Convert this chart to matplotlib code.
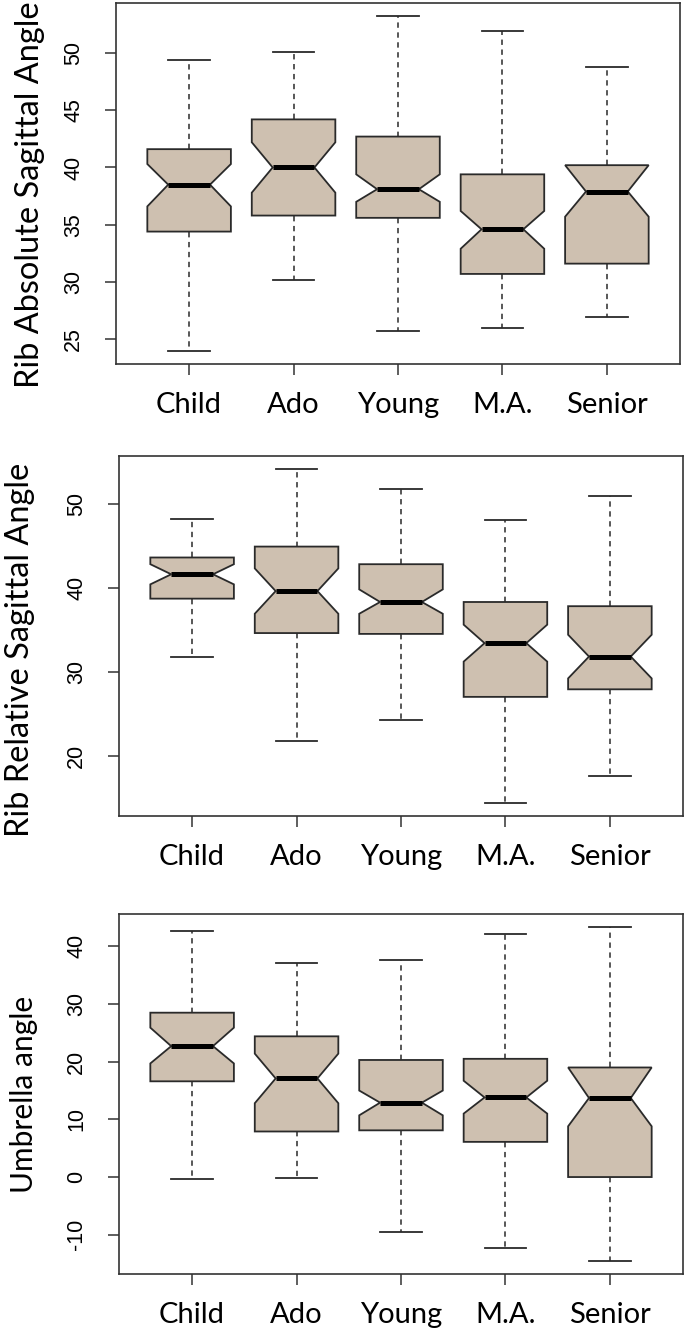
import numpy as np
import matplotlib.pyplot as plt

plt.rcParams['axes.unicode_minus'] = False

# groups
groups = ['Child', 'Ado', 'Young', 'M.A.', 'Senior']

# Rib Absolute Sagittal Angle
abs_whislo = [24.0, 30.2, 25.7, 26.0, 26.9]
abs_q1 = [34.4, 35.8, 35.6, 30.7, 31.6]
abs_cilo = [36.6, 37.8, 37.0, 32.9, 35.7]
abs_med = [38.5, 40.0, 38.1, 34.6, 37.9]
abs_cihi = [40.3, 42.2, 39.4, 36.2, 40.2]
abs_q3 = [41.6, 44.2, 42.7, 39.4, 40.2]
abs_whishi = [49.4, 50.1, 53.2, 51.9, 48.8]

# Rib Relative Sagittal Angle
rel_whislo = [31.7, 21.8, 24.3, 14.4, 17.6]
rel_q1 = [38.7, 34.6, 34.5, 27.0, 27.9]
rel_cilo = [40.4, 36.9, 36.9, 31.2, 29.2]
rel_med = [41.6, 39.6, 38.3, 33.4, 31.8]
rel_cihi = [42.8, 42.3, 39.8, 35.6, 34.4]
rel_q3 = [43.6, 44.9, 42.8, 38.3, 37.8]
rel_whishi = [48.2, 54.1, 51.8, 48.1, 50.9]

# Umbrella angle
umb_whislo = [-0.4, -0.1, -9.6, -12.3, -14.5]
umb_q1 = [16.6, 7.9, 8.1, 6.1, 0.0]
umb_cilo = [19.7, 12.8, 10.7, 11.0, 8.8]
umb_med = [22.7, 17.1, 12.9, 13.8, 13.7]
umb_cihi = [25.9, 21.4, 15.0, 16.7, 19.0]
umb_q3 = [28.5, 24.4, 20.3, 20.5, 19.0]
umb_whishi = [42.7, 37.2, 37.6, 42.2, 43.3]

abs_ticks = [25, 30, 35, 40, 45, 50]
rel_ticks = [20, 30, 40, 50]
umb_ticks = [-10, 0, 10, 20, 30, 40]

W, H = 685, 1337
fig = plt.figure(figsize=(W / 100, H / 100), dpi=100)

fill = '#cec0b0'
edge = '#2a2a2a'


def make_panel(rect, whislo, q1, cilo, med, cihi, q3, whishi, ticks, label, lab_xy, lab_size):
    left, top, right, bottom = rect
    ax = fig.add_axes([left / W, 1 - bottom / H, (right - left) / W, (bottom - top) / H])
    stats = []
    for i in range(len(groups)):
        stats.append(dict(whislo=whislo[i], q1=q1[i], cilo=cilo[i], med=med[i],
                          cihi=cihi[i], q3=q3[i], whishi=whishi[i], fliers=[]))
    pos = np.arange(1, len(groups) + 1)
    ax.bxp(stats, positions=pos, widths=0.8, shownotches=True, patch_artist=True,
           boxprops=dict(facecolor=fill, edgecolor=edge, linewidth=1.3),
           medianprops=dict(color='black', linewidth=3.6, solid_capstyle='butt'),
           whiskerprops=dict(color=edge, linewidth=1.1, linestyle=(0, (3.5, 3))),
           capprops=dict(color=edge, linewidth=1.3))
    lo, hi = min(whislo), max(whishi)
    pad = 0.04 * (hi - lo)
    ax.set_ylim(lo - pad, hi + pad)
    ax.set_xlim(0.3, len(groups) + 0.7)
    ax.set_xticks(pos)
    ax.set_xticklabels(groups, family='Lato', fontsize=21)
    ax.set_yticks(ticks)
    ax.set_yticklabels([str(t) for t in ticks], rotation=90, va='center',
                       family='Liberation Sans', fontsize=15.5)
    ax.tick_params(axis='x', length=8, width=1.1, color='#333333', pad=12)
    ax.tick_params(axis='y', length=8, width=1.1, color='#333333', pad=15)
    for s in ax.spines.values():
        s.set_linewidth(1.2)
        s.set_color('#333333')
    fig.text(lab_xy[0] / W, 1 - lab_xy[1] / H, label, rotation=90, ha='center',
             va='center', family='Lato', fontsize=lab_size)
    return ax


make_panel((116, 3, 680, 364), abs_whislo, abs_q1, abs_cilo, abs_med, abs_cihi,
           abs_q3, abs_whishi, abs_ticks, 'Rib Absolute Sagittal Angle', (30, 195), 23.4)
make_panel((119, 456, 683, 816), rel_whislo, rel_q1, rel_cilo, rel_med, rel_cihi,
           rel_q3, rel_whishi, rel_ticks, 'Rib Relative Sagittal Angle', (20, 650), 23.4)
make_panel((119, 914, 683, 1274), umb_whislo, umb_q1, umb_cilo, umb_med, umb_cihi,
           umb_q3, umb_whishi, umb_ticks, 'Umbrella angle', (24, 1094), 21.5)

fig.savefig('out.png', dpi=100)
